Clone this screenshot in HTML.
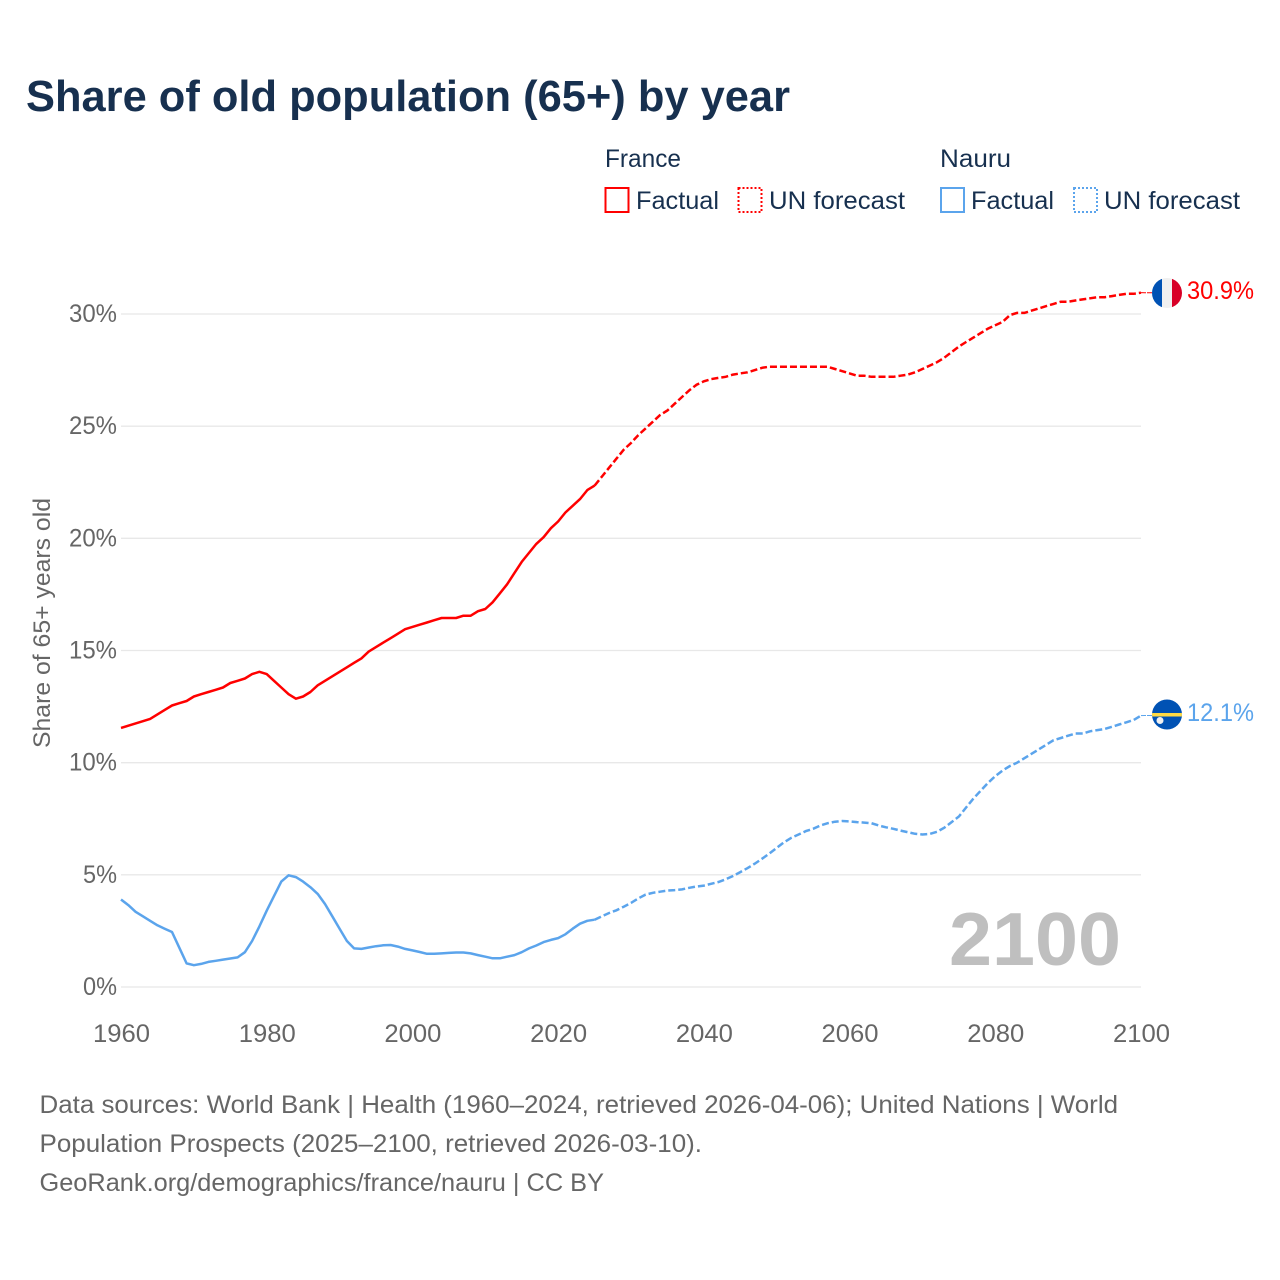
<!DOCTYPE html>
<html lang="en">
<head>
<meta charset="utf-8">
<title>Share of old population (65+) by year</title>
<style>
html,body{margin:0;padding:0;background:#fff}
svg{display:block}
text{font-family:"Liberation Sans",sans-serif}
.leg{font-size:25px;fill:#17304f}
.tick{font-size:25px;fill:#666}
.foot{font-size:25px;fill:#666}
</style>
</head>
<body>
<svg id="chart" width="1280" height="1280" viewBox="0 0 1280 1280" xmlns="http://www.w3.org/2000/svg">
<defs>
<clipPath id="flag-clip-fr"><circle cx="1167" cy="293" r="15"/></clipPath>
<clipPath id="flag-clip-nr"><circle cx="1167" cy="714.500" r="15"/></clipPath>
</defs>
<rect width="1280" height="1280" fill="#fff"/>
<text x="26" y="111" font-size="44" font-weight="700" fill="#17304f" textLength="764" lengthAdjust="spacingAndGlyphs">Share of old population (65+) by year</text>

<g>
<text class="leg" x="605" y="167" textLength="76" lengthAdjust="spacingAndGlyphs">France</text>
<rect x="605.500" y="188" width="23" height="24" fill="none" stroke="#ff0000" stroke-width="2"/>
<text class="leg" x="636" y="209" textLength="83" lengthAdjust="spacingAndGlyphs">Factual</text>
<rect x="738.500" y="188" width="23" height="24" fill="none" stroke="#ff0000" stroke-width="2" stroke-dasharray="2 2"/>
<text class="leg" x="769" y="209" textLength="136" lengthAdjust="spacingAndGlyphs">UN forecast</text>
<text class="leg" x="940" y="167" textLength="71" lengthAdjust="spacingAndGlyphs">Nauru</text>
<rect x="941" y="188" width="23" height="24" fill="none" stroke="#5ba4ec" stroke-width="2"/>
<text class="leg" x="971" y="209" textLength="83" lengthAdjust="spacingAndGlyphs">Factual</text>
<rect x="1074" y="188" width="23" height="24" fill="none" stroke="#5ba4ec" stroke-width="2" stroke-dasharray="2 2"/>
<text class="leg" x="1104" y="209" textLength="136" lengthAdjust="spacingAndGlyphs">UN forecast</text>
</g>

<text transform="translate(50,748) rotate(-90)" font-size="24" fill="#666" textLength="250" lengthAdjust="spacingAndGlyphs">Share of 65+ years old</text>

<g id="grid"></g>
<g id="yticks"></g>
<g id="xticks"></g>

<text x="949" y="965" font-size="75" font-weight="700" fill="#bfbfbf" textLength="172" lengthAdjust="spacingAndGlyphs">2100</text>

<g id="series"></g>

<g clip-path="url(#flag-clip-fr)">
<rect x="1152" y="278" width="10" height="30" fill="#0052b4"/>
<rect x="1162" y="278" width="10" height="30" fill="#f0f0f0"/>
<rect x="1172" y="278" width="10" height="30" fill="#d80027"/>
</g>
<g clip-path="url(#flag-clip-nr)">
<rect x="1152" y="699" width="30" height="31" fill="#0052b4"/>
<rect x="1152" y="713" width="30" height="3.500" fill="#ffda44"/>
<circle cx="1160" cy="720.500" r="3.500" fill="#f0f0f0"/>
</g>
<text id="label-fr" x="1187" y="299" font-size="25" fill="#ff0000" textLength="67" lengthAdjust="spacingAndGlyphs"></text>
<text id="label-nr" x="1187" y="721" font-size="25" fill="#5ba4ec" textLength="67" lengthAdjust="spacingAndGlyphs"></text>

<g>
<text class="foot" x="39.500" y="1113" textLength="1078.500" lengthAdjust="spacingAndGlyphs">Data sources: World Bank | Health (1960–2024, retrieved 2026-04-06); United Nations | World</text>
<text class="foot" x="39.500" y="1152" textLength="662.500" lengthAdjust="spacingAndGlyphs">Population Prospects (2025–2100, retrieved 2026-03-10).</text>
<text class="foot" x="39.500" y="1191" textLength="564.500" lengthAdjust="spacingAndGlyphs">GeoRank.org/demographics/france/nauru | CC BY</text>
</g>
</svg>
<script>
const startYear = 1960;
const lastFactualYear = 2025;
const yTickValues = [0, 5, 10, 15, 20, 25, 30];
const xTickYears = [1960, 1980, 2000, 2020, 2040, 2060, 2080, 2100];
const franceValues = [11.55,11.65,11.75,11.85,11.95,12.15,12.35,12.55,12.65,12.75,12.95,13.05,13.15,13.25,13.35,13.55,13.65,13.75,13.95,14.05,13.95,13.65,13.35,13.05,12.85,12.95,13.15,13.45,13.65,13.85,14.05,14.25,14.45,14.65,14.95,15.15,15.35,15.55,15.75,15.95,16.05,16.15,16.25,16.35,16.45,16.45,16.45,16.55,16.55,16.75,16.85,17.15,17.55,17.95,18.45,18.95,19.35,19.75,20.05,20.45,20.75,21.15,21.45,21.75,22.15,22.35,22.75,23.15,23.55,23.95,24.25,24.6,24.9,25.2,25.5,25.7,26.0,26.3,26.6,26.85,27.0,27.1,27.15,27.2,27.3,27.35,27.4,27.5,27.6,27.65,27.65,27.65,27.65,27.65,27.65,27.65,27.65,27.65,27.55,27.45,27.35,27.25,27.25,27.2,27.2,27.2,27.2,27.25,27.3,27.4,27.55,27.7,27.85,28.05,28.3,28.55,28.75,28.95,29.15,29.35,29.5,29.65,29.95,30.05,30.05,30.15,30.25,30.35,30.45,30.55,30.55,30.6,30.65,30.7,30.75,30.75,30.8,30.85,30.9,30.9,30.95];
const nauruValues = [3.9,3.65,3.35,3.15,2.95,2.75,2.6,2.45,1.75,1.05,0.97,1.03,1.12,1.17,1.22,1.27,1.32,1.55,2.05,2.7,3.4,4.05,4.7,4.98,4.9,4.7,4.45,4.15,3.7,3.15,2.6,2.05,1.72,1.7,1.76,1.82,1.86,1.87,1.8,1.7,1.63,1.56,1.48,1.48,1.5,1.52,1.54,1.54,1.5,1.42,1.35,1.28,1.28,1.35,1.42,1.55,1.72,1.85,2.0,2.1,2.18,2.35,2.6,2.82,2.95,3.0,3.15,3.3,3.42,3.58,3.75,3.95,4.12,4.2,4.25,4.3,4.32,4.35,4.42,4.48,4.52,4.6,4.68,4.8,4.95,5.12,5.3,5.5,5.72,5.95,6.2,6.45,6.65,6.8,6.95,7.05,7.2,7.3,7.37,7.4,7.38,7.35,7.33,7.3,7.2,7.12,7.05,6.97,6.9,6.83,6.8,6.82,6.92,7.1,7.35,7.6,8.0,8.4,8.75,9.1,9.4,9.65,9.85,10.0,10.2,10.4,10.6,10.8,11.0,11.1,11.2,11.3,11.3,11.4,11.45,11.5,11.6,11.7,11.8,11.9,12.1];
const franceEndLabel = "30.9%";
const nauruEndLabel = "12.1%";

const NS = "http://www.w3.org/2000/svg";
function xScale(year) { return 121 + (year - 1960) * (1141 - 121) / (2100 - 1960); }
function yScale(v) { return 987 - v * (987 - 314) / 30; }
function svgEl(tag, parent) {
  const el = document.createElementNS(NS, tag);
  parent.appendChild(el);
  return el;
}
const grid = document.getElementById("grid");
const yticks = document.getElementById("yticks");
const xticks = document.getElementById("xticks");
const series = document.getElementById("series");

yTickValues.forEach(function (v) {
  const line = svgEl("line", grid);
  
  
  line.setAttribute("x1", 121);
  line.setAttribute("x2", 1141);
  line.setAttribute("y1", yScale(v));
  line.setAttribute("y2", yScale(v));
  line.setAttribute("stroke", "#e8e8e8");
  line.setAttribute("stroke-width", 1.3);
  const t = svgEl("text", yticks);
  
  
  t.setAttribute("class", "tick");
  t.setAttribute("x", 117);
  t.setAttribute("y", yScale(v) + 8);
  t.setAttribute("text-anchor", "end");
  t.setAttribute("textLength", 20 + 14 * String(v).length);
  t.setAttribute("lengthAdjust", "spacingAndGlyphs");
  t.textContent = v + "%";
});
xTickYears.forEach(function (yr) {
  const t = svgEl("text", xticks);
  
  
  t.setAttribute("class", "tick");
  t.setAttribute("x", xScale(yr) + 0.5);
  t.setAttribute("y", 1042);
  t.setAttribute("text-anchor", "middle");
  t.setAttribute("textLength", 57);
  t.setAttribute("lengthAdjust", "spacingAndGlyphs");
  t.textContent = yr;
});
function pathFor(values, from, to) {
  const pts = [];
  values.forEach(function (v, i) {
    const yr = startYear + i;
    if (yr >= from && yr <= to) pts.push(xScale(yr).toFixed(1) + "," + yScale(v).toFixed(1));
  });
  return "M" + pts.join("L");
}
function drawSeries(values, color, parentName) {
  const g = svgEl("g", series);
  
  
  const solid = svgEl("path", g);
  
  
  solid.setAttribute("d", pathFor(values, startYear, lastFactualYear));
  solid.setAttribute("fill", "none");
  solid.setAttribute("stroke", color);
  solid.setAttribute("stroke-width", 2.5);
  solid.setAttribute("stroke-linejoin", "round");
  const dashed = svgEl("path", g);
  
  
  dashed.setAttribute("d", pathFor(values, lastFactualYear, 2100));
  dashed.setAttribute("fill", "none");
  dashed.setAttribute("stroke", color);
  dashed.setAttribute("stroke-width", 2.5);
  dashed.setAttribute("stroke-dasharray", "7 3");
  const end = yScale(values[values.length - 1]);
  const conn = svgEl("line", g);
  
  
  conn.setAttribute("x1", 1141);
  conn.setAttribute("x2", 1153);
  conn.setAttribute("y1", end);
  conn.setAttribute("y2", end);
  conn.setAttribute("stroke", color);
  conn.setAttribute("stroke-width", 1);
  conn.setAttribute("stroke-dasharray", "5 1");
}
drawSeries(franceValues, "#ff0000", "series-france");
drawSeries(nauruValues, "#5ba4ec", "series-nauru");
document.getElementById("label-fr").textContent = franceEndLabel;
document.getElementById("label-nr").textContent = nauruEndLabel;
</script>
</body>
</html>
